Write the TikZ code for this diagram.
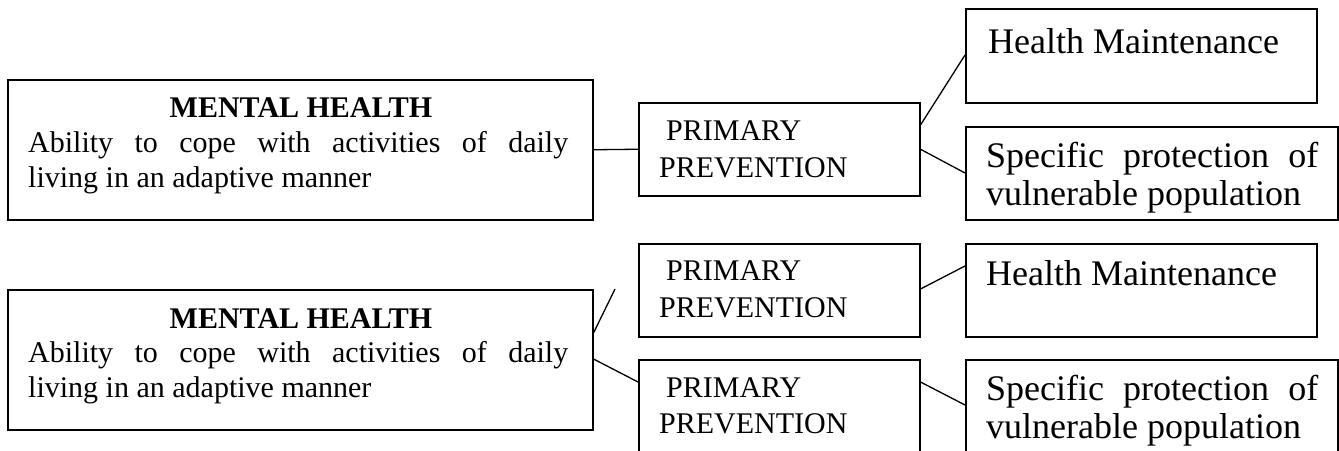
\documentclass[tikz,border=0pt]{standalone}
\usepackage{fontspec}
\setmainfont{Liberation Serif}
\usetikzlibrary{calc}
\begin{document}
\begin{tikzpicture}[x=1pt,y=-1pt,
  box/.style={draw,line width=1.5pt,inner sep=0pt,anchor=north west,rectangle},
  txt/.style={inner sep=0pt,anchor=base west},
  ctr/.style={inner sep=0pt,anchor=base},
  link/.style={line width=1.3pt},
  midfont/.style={font=\fontsize{30}{36}\selectfont},
  bigfont/.style={font=\fontsize{36}{40}\selectfont}]
\useasboundingbox (0,0) rectangle (1339,450);
\clip (0,0) rectangle (1339,450);

% ---------- top section ----------
\node[box,minimum width=585pt,minimum height=140pt] (mh1) at (7,79) {};
\node[box,minimum width=281pt,minimum height=93pt] (pp1) at (638,102) {};
\node[box,minimum width=351pt,minimum height=94pt] (hm1) at (965,8) {};
\node[box,minimum width=372pt,minimum height=93pt] (sp1) at (965,126) {};

\node[ctr,midfont] (mh1t) at (301,117) {\bfseries MENTAL HEALTH};
\node[txt,midfont] (mh1a) at (28,152) {\makebox[540pt][s]{Ability to cope with activities of daily}};
\node[txt,midfont] (mh1b) at (28,187) {living in an adaptive manner};
\node[txt,midfont] (pp1a) at (666,140) {PRIMARY};
\node[txt,midfont] (pp1b) at (659,177) {PREVENTION};
\node[txt,bigfont] (hm1t) at (988,53) {Health Maintenance};
\node[txt,bigfont] (sp1a) at (986,167) {\makebox[332pt][s]{Specific protection of}};
\node[txt,bigfont] (sp1b) at (986,205) {vulnerable population};

\draw[link] (mh1.east) -- (pp1.west);
\draw[link] ([yshift=-23pt]pp1.north east) -- ([yshift=-47pt]hm1.north west);
\draw[link] (pp1.east) -- ([yshift=-47pt]sp1.north west);

% ---------- bottom section ----------
\node[box,minimum width=585pt,minimum height=140pt] (mh2) at (7,289) {};
\node[box,minimum width=281pt,minimum height=93pt] (pp2) at (638,243) {};
\node[box,minimum width=281pt,minimum height=93pt] (pp3) at (638,359) {};
\node[box,minimum width=351pt,minimum height=93pt] (hm2) at (965,243) {};
\node[box,minimum width=372pt,minimum height=93pt] (sp2) at (965,359) {};

\node[ctr,midfont] (mh2t) at (301,328) {\bfseries MENTAL HEALTH};
\node[txt,midfont] (mh2a) at (28,362) {\makebox[540pt][s]{Ability to cope with activities of daily}};
\node[txt,midfont] (mh2b) at (28,397) {living in an adaptive manner};
\node[txt,midfont] (pp2a) at (666,280) {PRIMARY};
\node[txt,midfont] (pp2b) at (659,317) {PREVENTION};
\node[txt,midfont] (pp3a) at (666,397) {PRIMARY};
\node[txt,midfont] (pp3b) at (659,433) {PREVENTION};
\node[txt,bigfont] (hm2t) at (986,285) {Health Maintenance};
\node[txt,bigfont] (sp2a) at (986,400) {\makebox[332pt][s]{Specific protection of}};
\node[txt,bigfont] (sp2b) at (986,438) {vulnerable population};

\coordinate (free) at (615,289);
\draw[link] ([yshift=-44pt]mh2.north east) -- (free);
\draw[link] ([yshift=-70pt]mh2.north east) -- ([yshift=-23pt]pp3.north west);
\draw[link] ([yshift=-46pt]pp2.north east) -- ([yshift=-23pt]hm2.north west);
\draw[link] ([yshift=-23pt]pp3.north east) -- ([yshift=-46pt]sp2.north west);
\end{tikzpicture}
\end{document}
